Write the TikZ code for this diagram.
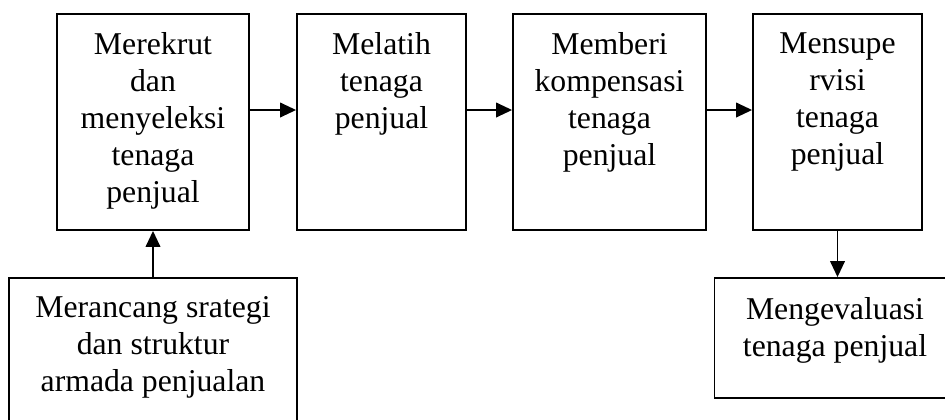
\documentclass[tikz,border=0pt]{standalone}
\usepackage{fontspec}
\setmainfont{Liberation Serif}
\usetikzlibrary{arrows.meta}
\tikzset{
  box/.style={draw, line width=1.4pt, inner sep=0pt, rectangle},
  txt/.style={anchor=north, inner sep=0pt, align=center, font=\fontsize{23.8}{27.75}\selectfont},
  arr/.style={line width=1.3pt, -{Triangle[length=12pt,width=11pt]}}
}
\begin{document}
\begin{tikzpicture}[x=0.75pt,y=-0.75pt]
\useasboundingbox (0,0) rectangle (945,419);
\clip (0,0) rectangle (945,419);
\fill[white] (0,0) rectangle (945,419);
% boxes
\node[box, minimum width=144pt, minimum height=162pt] (b1) at (153,122) {};
\node[box, minimum width=126.75pt, minimum height=162pt] (b2) at (381.5,122) {};
\node[box, minimum width=144.75pt, minimum height=162pt] (b3) at (609.5,122) {};
\node[box, minimum width=126.75pt, minimum height=162pt] (b4) at (837.5,122) {};
\node[box, minimum width=216pt, minimum height=110.25pt] (b5) at (153,351.5) {};
\node[box, minimum width=184.5pt, minimum height=90pt] (b6) at (837.5,338) {};
% texts
\node[txt] (t1) at (153,32) {Merekrut\\dan\\menyeleksi\\tenaga\\penjual};
\node[txt] (t2) at (381.5,32) {Melatih\\tenaga\\penjual};
\node[txt] (t3) at (609.5,32) {Memberi\\kompensasi\\tenaga\\penjual};
\node[txt] (t4) at (837.5,32) {Mensupe\\rvisi\\tenaga\\penjual};
\node[txt] (t5) at (153,296) {Merancang srategi\\dan struktur\\armada penjualan};
\node[txt] (t6) at (835,297) {Mengevaluasi\\tenaga penjual};
% connectors
\coordinate (row) at (0,110);
\draw[arr] (b1.east |- row) -- (b2.west |- row);
\draw[arr] (b2.east |- row) -- (b3.west |- row);
\draw[arr] (b3.east |- row) -- (b4.west |- row);
\draw[arr] (b5.north) -- (b1.south);
\draw[arr] (b4.south) -- (b6.north);
\end{tikzpicture}
\end{document}
